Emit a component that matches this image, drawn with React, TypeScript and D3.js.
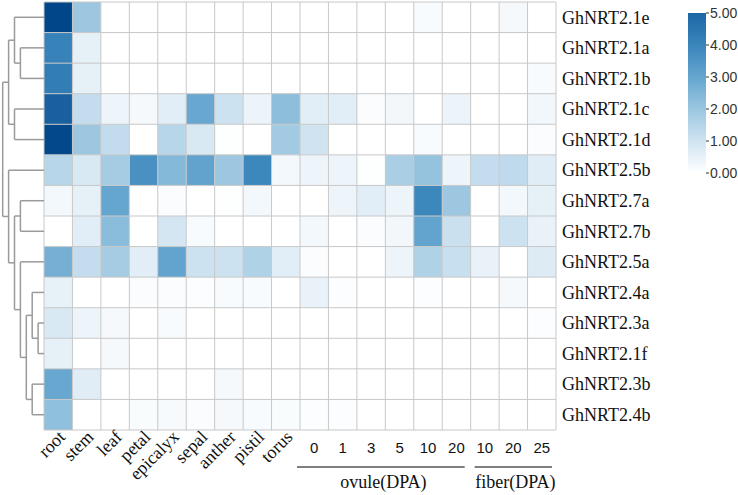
import React from "react";
import * as d3 from "d3";

const genes = [
  "GhNRT2.1e", "GhNRT2.1a", "GhNRT2.1b", "GhNRT2.1c", "GhNRT2.1d", "GhNRT2.5b", "GhNRT2.7a",
  "GhNRT2.7b", "GhNRT2.5a", "GhNRT2.4a", "GhNRT2.3a", "GhNRT2.1f", "GhNRT2.3b", "GhNRT2.4b",
];

const tissues = ["root", "stem", "leaf", "petal", "epicalyx", "sepal", "anther", "pistil", "torus"];
const ovuleDays = ["0", "1", "3", "5", "10", "20"];
const fiberDays = ["10", "20", "25"];

// one row per gene: tissues, ovule 0..20 DPA, fiber 10..25 DPA
const expression = [
  [6.0, 1.95, 0, 0, 0, 0, 0, 0, 0, 0, 0, 0, 0, 0.15, 0, 0, 0.2, 0],
  [4.1, 0.55, 0, 0, 0, 0, 0, 0, 0, 0, 0, 0, 0, 0, 0, 0, 0, 0],
  [4.25, 0.55, 0, 0, 0, 0, 0, 0, 0, 0, 0, 0, 0, 0, 0, 0, 0, 0.15],
  [5.2, 1.2, 0.35, 0.2, 0.6, 2.95, 1.05, 0.4, 2.25, 0.6, 0.6, 0.1, 0.3, 0, 0.4, 0, 0, 0.3],
  [5.95, 1.95, 1.25, 0, 1.45, 0.8, 0.05, 0, 1.85, 1.0, 0, 0, 0, 0.15, 0, 0, 0, 0.1],
  [1.45, 0.8, 1.8, 3.65, 2.4, 3.1, 1.95, 3.95, 0.25, 0.35, 0.35, 0.05, 1.7, 2.1, 0.35, 1.2, 1.3, 0.65],
  [0.25, 0.55, 3.0, 0, 0.1, 0, 0.05, 0.25, 0, 0, 0.35, 0.6, 0.35, 3.95, 1.95, 0, 0.25, 0.55],
  [0, 0.6, 2.3, 0, 0.9, 0.15, 0, 0, 0, 0.25, 0, 0.1, 0.3, 3.05, 1.1, 0, 1.05, 0.45],
  [2.7, 1.2, 1.8, 0.6, 3.05, 1.05, 1.05, 1.6, 0.6, 0.1, 0, 0, 0.35, 1.6, 1.15, 0.45, 0, 0.7],
  [0.5, 0, 0, 0.1, 0.1, 0.08, 0.15, 0.15, 0, 0.45, 0.08, 0, 0, 0.08, 0, 0, 0.2, 0],
  [0.8, 0.35, 0.2, 0, 0.15, 0, 0, 0, 0, 0, 0, 0, 0, 0, 0, 0, 0, 0.08],
  [0.55, 0, 0.2, 0, 0, 0, 0, 0, 0, 0, 0, 0, 0, 0, 0, 0, 0, 0],
  [2.95, 0.65, 0, 0, 0, 0, 0.2, 0, 0, 0, 0, 0, 0, 0, 0, 0, 0, 0],
  [2.2, 0, 0, 0.12, 0.18, 0.1, 0.2, 0.15, 0.12, 0.08, 0.08, 0, 0, 0, 0, 0, 0, 0],
];

// row clustering, merge level of each node (leaves = 0)
const tree = {
  level: 7,
  children: [
    {
      level: 6,
      children: [
        { level: 5, children: [{ leaf: "GhNRT2.1e" }, { level: 4, children: [{ leaf: "GhNRT2.1a" }, { leaf: "GhNRT2.1b" }] }] },
        { level: 5, children: [{ leaf: "GhNRT2.1c" }, { leaf: "GhNRT2.1d" }] },
      ],
    },
    {
      level: 6,
      children: [
        { leaf: "GhNRT2.5b" },
        {
          level: 5,
          children: [
            { level: 4, children: [{ leaf: "GhNRT2.7a" }, { leaf: "GhNRT2.7b" }] },
            {
              level: 4,
              children: [
                { leaf: "GhNRT2.5a" },
                {
                  level: 3,
                  children: [
                    { level: 2, children: [{ leaf: "GhNRT2.4a" }, { level: 1, children: [{ leaf: "GhNRT2.3a" }, { leaf: "GhNRT2.1f" }] }] },
                    { level: 2, children: [{ leaf: "GhNRT2.3b" }, { leaf: "GhNRT2.4b" }] },
                  ],
                },
              ],
            },
          ],
        },
      ],
    },
  ],
};

const legendTicks = [0, 1, 2, 3, 4, 5];

const serif = "'Liberation Serif', 'Times New Roman', serif";
const sans = "'Liberation Sans', Arial, sans-serif";

export default function App() {
  const width = 738;
  const height = 495;
  const grid = { left: 44, right: 556, top: 2, bottom: 430 };

  const colKeys = [...tissues, ...ovuleDays.map((d) => "o" + d), ...fiberDays.map((d) => "f" + d)];
  const x = d3.scaleBand().domain(colKeys).range([grid.left, grid.right]);
  const y = d3.scaleBand().domain(genes).range([grid.top, grid.bottom]);
  const lx = d3.scaleLinear().domain([0, 7]).range([grid.left, 2.7]);

  const color = d3
    .scaleLinear<string>()
    .domain([0, 1, 2, 3, 4, 5, 6])
    .range(["#ffffff", "#cfe3f1", "#9ac6e0", "#65a6cf", "#3a85bb", "#1d66a4", "#02468a"])
    .clamp(true);

  // dendrogram segments
  const segs: [number, number, number, number][] = [];
  function walk(n: any): number {
    if (n.leaf) return y(n.leaf)! + y.bandwidth() / 2;
    const ys = n.children.map((c: any) => {
      const cy = walk(c);
      const cx = c.leaf ? grid.left : lx(c.level);
      segs.push([lx(n.level), cy, cx, cy]);
      return cy;
    });
    segs.push([lx(n.level), d3.min(ys)!, lx(n.level), d3.max(ys)!]);
    return (d3.min(ys)! + d3.max(ys)!) / 2;
  }
  walk(tree);

  const leg = { x: 688, w: 18 };
  const ly = d3.scaleLinear().domain([0, 5]).range([173, 13]);

  const ovuleX0 = x("o0")!;
  const ovuleX1 = x("o20")! + x.bandwidth();
  const fiberX0 = x("f10")!;
  const fiberX1 = x("f25")! + x.bandwidth();

  return (
    <svg width={width} height={height} style={{ position: "absolute", left: 0, top: 0, background: "#fff" }}>
      <defs>
        <linearGradient id="legend-grad" x1="0" y1="1" x2="0" y2="0">
          {d3.range(0, 5.01, 0.5).map((v) => (
            <stop key={v} offset={`${(v / 5) * 100}%`} stopColor={color(v)} />
          ))}
        </linearGradient>
      </defs>

      {genes.map((g, i) =>
        colKeys.map((c, j) => (
          <rect key={g + c} x={x(c)} y={y(g)} width={x.bandwidth()} height={y.bandwidth()} fill={color(expression[i][j])} />
        ))
      )}

      <g stroke="#c8c8c8" strokeWidth={1}>
        {d3.range(genes.length + 1).map((i) => {
          const yy = grid.top + i * y.step();
          return <line key={"h" + i} x1={grid.left} x2={grid.right} y1={yy} y2={yy} />;
        })}
        {d3.range(colKeys.length + 1).map((j) => {
          const xx = grid.left + j * x.step();
          return <line key={"v" + j} x1={xx} x2={xx} y1={grid.top} y2={grid.bottom} />;
        })}
      </g>

      <g stroke="#9a9a9a" strokeWidth={1.5} fill="none">
        {segs.map((s, i) => (
          <line key={i} x1={s[0]} y1={s[1]} x2={s[2]} y2={s[3]} />
        ))}
      </g>

      {genes.map((g) => (
        <text key={g} x={grid.right + 6} y={y(g)! + y.bandwidth() / 2} dy="0.35em" fontFamily={serif} fontSize={18} fill="#111">
          {g}
        </text>
      ))}

      {tissues.map((t) => (
        <text
          key={t}
          transform={`translate(${x(t)! + x.bandwidth() / 2 + 8},${grid.bottom + 8}) rotate(-45)`}
          textAnchor="end"
          fontFamily={serif}
          fontSize={18}
          fill="#111"
        >
          {t}
        </text>
      ))}

      {[...ovuleDays.map((d) => ["o" + d, d]), ...fiberDays.map((d) => ["f" + d, d])].map(([k, d]) => (
        <text key={k} x={x(k)! + x.bandwidth() / 2} y={453} textAnchor="middle" fontFamily={sans} fontSize={15} fill="#111">
          {d}
        </text>
      ))}

      <g stroke="#555" strokeWidth={1.5}>
        <line x1={ovuleX0 - 3} x2={ovuleX1 - 6} y1={467} y2={467} />
        <line x1={fiberX0 + 4} x2={fiberX1 - 4} y1={467} y2={467} />
      </g>
      <text x={(ovuleX0 + ovuleX1) / 2 - 2} y={488} textAnchor="middle" fontFamily={serif} fontSize={18} fill="#111">
        ovule(DPA)
      </text>
      <text x={(fiberX0 + fiberX1) / 2 + 2} y={488} textAnchor="middle" fontFamily={serif} fontSize={18} fill="#111">
        fiber(DPA)
      </text>

      <rect x={leg.x} y={ly(5)} width={leg.w} height={ly(0) - ly(5)} fill="url(#legend-grad)" />
      {legendTicks.map((t) => (
        <g key={t} transform={`translate(${leg.x + leg.w},${ly(t)})`}>
          <line x1={0} x2={3} stroke="#333" />
          <text x={4} dy="0.35em" fontFamily={sans} fontSize={14} fill="#333">
            {d3.format(".2f")(t)}
          </text>
        </g>
      ))}
    </svg>
  );
}
